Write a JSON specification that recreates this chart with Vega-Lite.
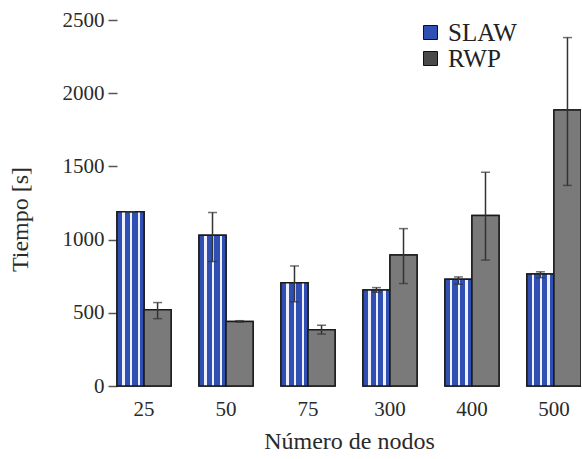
{
  "$schema": "https://vega.github.io/schema/vega-lite/v6.json",
  "width": 464,
  "height": 366,
  "autosize": {"type": "none"},
  "padding": {"left": 117, "top": 20, "right": 0, "bottom": 73},
  "background": "white",
  "config": {
    "view": {"stroke": null},
    "font": "Liberation Serif",
    "axis": {"labelFont": "Liberation Serif", "titleFont": "Liberation Serif"},
    "legend": {"labelFont": "Liberation Serif"}
  },
  "data": {
    "values": [
      {"nodos": "25", "serie": "SLAW", "tiempo": 1190, "min": 1190, "max": 1190},
      {"nodos": "25", "serie": "RWP", "tiempo": 520, "min": 460, "max": 570},
      {"nodos": "50", "serie": "SLAW", "tiempo": 1030, "min": 850, "max": 1185},
      {"nodos": "50", "serie": "RWP", "tiempo": 440, "min": 436, "max": 446},
      {"nodos": "75", "serie": "SLAW", "tiempo": 705, "min": 575, "max": 820},
      {"nodos": "75", "serie": "RWP", "tiempo": 385, "min": 355, "max": 415},
      {"nodos": "300", "serie": "SLAW", "tiempo": 655, "min": 640, "max": 672},
      {"nodos": "300", "serie": "RWP", "tiempo": 895, "min": 700, "max": 1075},
      {"nodos": "400", "serie": "SLAW", "tiempo": 730, "min": 695, "max": 745},
      {"nodos": "400", "serie": "RWP", "tiempo": 1165, "min": 860, "max": 1460},
      {"nodos": "500", "serie": "SLAW", "tiempo": 765, "min": 740, "max": 780},
      {"nodos": "500", "serie": "RWP", "tiempo": 1885, "min": 1370, "max": 2380}
    ]
  },
  "encoding": {
    "x": {
      "field": "nodos",
      "type": "nominal",
      "sort": ["25", "50", "75", "300", "400", "500"],
      "scale": {"paddingInner": 0.34, "paddingOuter": 0},
      "axis": {
        "title": "Número de nodos",
        "labelAngle": 0,
        "domain": false,
        "ticks": false,
        "labelPadding": 12,
        "labelFontSize": 21,
        "labelColor": "#2a2a2a",
        "titleFontSize": 24,
        "titleFontWeight": "normal",
        "titleColor": "#2a2a2a",
        "titlePadding": 10
      }
    },
    "xOffset": {
      "field": "serie",
      "type": "nominal",
      "sort": ["SLAW", "RWP"],
      "scale": {"paddingInner": 0, "paddingOuter": 0}
    }
  },
  "layer": [
    {
      "mark": {"type": "bar", "stroke": "#1a1a1a", "strokeWidth": 1.5},
      "encoding": {
        "y": {
          "field": "tiempo",
          "type": "quantitative",
          "scale": {"domain": [0, 2500], "nice": false},
          "axis": {
            "title": "Tiempo [s]",
            "values": [0, 500, 1000, 1500, 2000, 2500],
            "format": "d",
            "domain": false,
            "grid": false,
            "tickSize": 9,
            "tickColor": "#555555",
            "tickWidth": 1.5,
            "labelPadding": 4,
            "labelFontSize": 21,
            "labelColor": "#2a2a2a",
            "titleFontSize": 24,
            "titleFontWeight": "normal",
            "titleColor": "#2a2a2a",
            "titlePadding": 30,
            "titleY": 199
          }
        },
        "color": {
          "field": "serie",
          "type": "nominal",
          "scale": {"domain": ["SLAW", "RWP"], "range": ["#2f4fb3", "#4a4a4a"]},
          "legend": {
            "title": null,
            "orient": "none",
            "legendX": 301,
            "legendY": 0,
            "symbolType": "square",
            "symbolSize": 196,
            "symbolStrokeColor": "#111111",
            "symbolStrokeWidth": 1,
            "symbolOpacity": 1,
            "labelFont": "Liberation Serif",
            "labelFontSize": 25,
            "labelColor": "#222222",
            "labelOffset": 5,
            "rowPadding": 0
          }
        }
      }
    },
    {
      "transform": [{"filter": "datum.serie === 'SLAW'"}],
      "mark": {
        "type": "bar",
        "stroke": "#1a1a1a",
        "strokeWidth": 1.5,
        "fill": {
          "gradient": "linear",
          "x1": 0, "y1": 0, "x2": 1, "y2": 0,
          "stops": [
            {"offset": 0, "color": "#2f4fb3"},
            {"offset": 0.2, "color": "#2f4fb3"},
            {"offset": 0.2, "color": "#eef0ff"},
            {"offset": 0.28, "color": "#eef0ff"},
            {"offset": 0.28, "color": "#2f4fb3"},
            {"offset": 0.48, "color": "#2f4fb3"},
            {"offset": 0.48, "color": "#eef0ff"},
            {"offset": 0.56, "color": "#eef0ff"},
            {"offset": 0.56, "color": "#2f4fb3"},
            {"offset": 0.76, "color": "#2f4fb3"},
            {"offset": 0.76, "color": "#eef0ff"},
            {"offset": 0.84, "color": "#eef0ff"},
            {"offset": 0.84, "color": "#2f4fb3"},
            {"offset": 1, "color": "#2f4fb3"}
          ]
        }
      },
      "encoding": {
        "y": {"field": "tiempo", "type": "quantitative"}
      }
    },
    {
      "transform": [{"filter": "datum.serie === 'RWP'"}],
      "mark": {"type": "bar", "stroke": "#1a1a1a", "strokeWidth": 1.5, "fill": "#7a7a7a"},
      "encoding": {
        "y": {"field": "tiempo", "type": "quantitative"}
      }
    },
    {
      "mark": {"type": "rule", "color": "#333333", "strokeWidth": 1.5},
      "encoding": {
        "y": {"field": "min", "type": "quantitative"},
        "y2": {"field": "max"}
      }
    },
    {
      "mark": {"type": "tick", "color": "#333333", "size": 9, "thickness": 1.5},
      "encoding": {
        "y": {"field": "max", "type": "quantitative"}
      }
    },
    {
      "mark": {"type": "tick", "color": "#333333", "size": 9, "thickness": 1.5},
      "encoding": {
        "y": {"field": "min", "type": "quantitative"}
      }
    }
  ]
}
